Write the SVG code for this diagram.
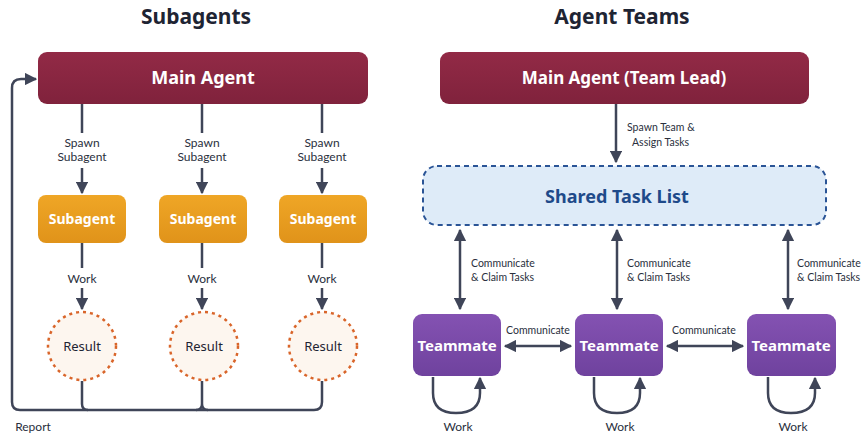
<svg xmlns="http://www.w3.org/2000/svg" width="861" height="436" viewBox="0 0 861 436">
<defs>
<linearGradient id="gRed" x1="0" y1="0" x2="0" y2="1"><stop offset="0" stop-color="#922a46"/><stop offset="1" stop-color="#80223c"/></linearGradient>
<linearGradient id="gOr" x1="0" y1="0" x2="0" y2="1"><stop offset="0" stop-color="#efa626"/><stop offset="1" stop-color="#e0931a"/></linearGradient>
<linearGradient id="gPu" x1="0" y1="0" x2="0" y2="1"><stop offset="0" stop-color="#8452b2"/><stop offset="1" stop-color="#6f429e"/></linearGradient>
<marker id="ah" viewBox="0 0 10 10" refX="9" refY="5" markerWidth="5" markerHeight="5" orient="auto-start-reverse" markerUnits="strokeWidth"><path d="M0,0 L10,5 L0,10 z" fill="#3f4558"/></marker>
</defs>
<style>
text{font-family:"Noto Sans","Open Sans","Liberation Sans",sans-serif;}
.title{font-size:21px;font-weight:bold;fill:#1e2433;text-anchor:middle;}
.wt{fill:#fff;font-weight:bold;text-anchor:middle;}
.lbl{font-family:Lato,"Noto Sans",sans-serif;font-size:12px;fill:#2a2f3d;text-anchor:middle;}
.lbl2{font-family:Lato,"Noto Sans",sans-serif;font-size:10.5px;fill:#2a2f3d;}
.ln{fill:none;stroke:#3f4558;stroke-width:2.5;}
.arr{fill:none;stroke:#3f4558;stroke-width:2.5;marker-end:url(#ah);}
.darr{fill:none;stroke:#3f4558;stroke-width:2.5;marker-end:url(#ah);marker-start:url(#ah);}
.res{fill:#fdf6ef;stroke:#d9652a;stroke-width:2.5;stroke-dasharray:3 4;}
</style>
<rect width="861" height="436" fill="#ffffff"/>
<text class="title" x="196" y="24">Subagents</text>
<text class="title" x="622" y="24">Agent Teams</text>

<g id="connectors">
  <path class="ln" d="M82,104 V133"/><path class="arr" d="M82,168 V193"/>
  <path class="ln" d="M202,104 V133"/><path class="arr" d="M202,168 V193"/>
  <path class="ln" d="M322,104 V133"/><path class="arr" d="M322,168 V193"/>
  <path class="ln" d="M82,243 V268"/><path class="arr" d="M82,288 V309"/>
  <path class="ln" d="M202,243 V268"/><path class="arr" d="M202,288 V309"/>
  <path class="ln" d="M322,243 V268"/><path class="arr" d="M322,288 V309"/>
  <path class="ln" d="M82,381 V404 Q82,410 88,410"/>
  <path class="ln" d="M202,381 V404 Q202,410 208,410 M202,404 Q202,410 196,410"/>
  <path class="ln" d="M322,381 V402 Q322,410 314,410 H20 Q12,410 12,402"/>
  <path class="arr" d="M12,402 V88 Q12,79 21,79 H36"/>
  <text class="lbl" x="82" y="147">Spawn</text><text class="lbl" x="82" y="161">Subagent</text>
  <text class="lbl" x="202" y="147">Spawn</text><text class="lbl" x="202" y="161">Subagent</text>
  <text class="lbl" x="322" y="147">Spawn</text><text class="lbl" x="322" y="161">Subagent</text>
  <text class="lbl" x="82" y="283">Work</text>
  <text class="lbl" x="202" y="283">Work</text>
  <text class="lbl" x="322" y="283">Work</text>
  <text class="lbl" x="33" y="431">Report</text>

  <path class="arr" d="M616,104 V162"/>
  <text class="lbl2" x="627" y="131">Spawn Team &amp;</text>
  <text class="lbl2" x="632" y="146">Assign Tasks</text>
  <path class="darr" d="M460,230 V309"/>
  <path class="darr" d="M617,230 V309"/>
  <path class="darr" d="M788,230 V309"/>
  <text class="lbl2" x="471" y="267">Communicate</text><text class="lbl2" x="471" y="281">&amp; Claim Tasks</text>
  <text class="lbl2" x="627" y="267">Communicate</text><text class="lbl2" x="627" y="281">&amp; Claim Tasks</text>
  <text class="lbl2" x="797" y="267" font-size="10">Communicate</text><text class="lbl2" x="797" y="281" font-size="10">&amp; Claim Tasks</text>
  <path class="darr" d="M505,346 H571"/>
  <path class="darr" d="M667,346 H743"/>
  <text class="lbl2" x="538" y="334" text-anchor="middle">Communicate</text>
  <text class="lbl2" x="704" y="334" text-anchor="middle">Communicate</text>
  <path class="arr" d="M433,377 V393 Q433,413 456,413 Q480,413 480,393 V378"/>
  <path class="arr" d="M594,377 V393 Q594,413 617,413 Q640,413 640,393 V378"/>
  <path class="arr" d="M768,377 V393 Q768,413 791,413 Q815,413 815,393 V378"/>
  <text class="lbl" x="458" y="431">Work</text>
  <text class="lbl" x="620" y="431">Work</text>
  <text class="lbl" x="793" y="431">Work</text>
</g>

<g id="main-agent"><rect x="38" y="52" width="330" height="52" rx="9" fill="url(#gRed)"/><text class="wt" x="203" y="84" font-size="18">Main Agent</text></g>
<g id="subagent-1"><rect x="38" y="195" width="88" height="48" rx="8" fill="url(#gOr)"/><text class="wt" x="82" y="224" font-size="14">Subagent</text></g>
<g id="subagent-2"><rect x="159" y="195" width="88" height="48" rx="8" fill="url(#gOr)"/><text class="wt" x="203" y="224" font-size="14">Subagent</text></g>
<g id="subagent-3"><rect x="279" y="195" width="88" height="48" rx="8" fill="url(#gOr)"/><text class="wt" x="323" y="224" font-size="14">Subagent</text></g>
<g id="result-1"><circle class="res" cx="82" cy="346" r="34"/><text x="82" y="351" font-size="13" fill="#1e2433" text-anchor="middle">Result</text></g>
<g id="result-2"><circle class="res" cx="204" cy="346" r="34"/><text x="204" y="351" font-size="13" fill="#1e2433" text-anchor="middle">Result</text></g>
<g id="result-3"><circle class="res" cx="323" cy="346" r="34"/><text x="323" y="351" font-size="13" fill="#1e2433" text-anchor="middle">Result</text></g>

<g id="team-lead"><rect x="440" y="52" width="369" height="52" rx="9" fill="url(#gRed)"/><text class="wt" x="624" y="84" font-size="17">Main Agent (Team Lead)</text></g>
<g id="shared-task-list"><rect x="423" y="166" width="403" height="59" rx="14" fill="#deebf8" stroke="#2a5496" stroke-width="2" stroke-dasharray="5 4"/><text x="617" y="203" font-size="18" font-weight="bold" fill="#1e4a8a" text-anchor="middle">Shared Task List</text></g>
<g id="teammate-1"><rect x="413" y="314" width="88" height="62" rx="9" fill="url(#gPu)"/><text class="wt" x="457" y="351" font-size="15">Teammate</text></g>
<g id="teammate-2"><rect x="575" y="314" width="88" height="62" rx="9" fill="url(#gPu)"/><text class="wt" x="619" y="351" font-size="15">Teammate</text></g>
<g id="teammate-3"><rect x="747" y="314" width="89" height="62" rx="9" fill="url(#gPu)"/><text class="wt" x="791" y="351" font-size="15">Teammate</text></g>
</svg>
